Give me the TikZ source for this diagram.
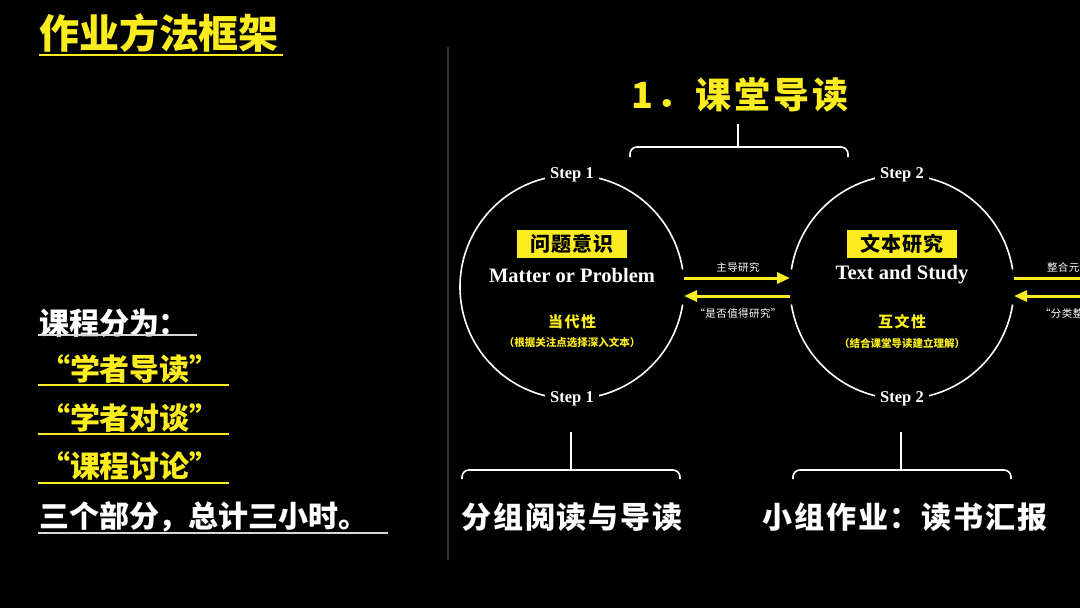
\documentclass[tikz,border=0pt]{standalone}
\usepackage{fontspec}
\usetikzlibrary{arrows.meta}
\setmainfont{Liberation Serif}
\newfontfamily\cjk{Noto Sans CJK SC}
\definecolor{yel}{RGB}{250,236,30}
\definecolor{dgray}{RGB}{45,45,45}
\definecolor{ulw}{RGB}{215,215,215}
\begin{document}
\begin{tikzpicture}[x=1pt,y=-1pt,
  every node/.style={inner sep=0pt, outer sep=0pt},
  ttl/.style={text=yel, font={\cjk\bfseries\fontsize{40}{40}\selectfont}},
  lw/.style={text=white, font={\cjk\bfseries\fontsize{30}{30}\selectfont}},
  ly/.style={text=yel, font={\cjk\bfseries\fontsize{30}{30}\selectfont}},
  ulwhite/.style={draw=ulw, line width=1.2pt},
  ulyel/.style={draw=yel, line width=1.2pt},
  head/.style={text=yel, font={\cjk\bfseries\fontsize{36}{36}\selectfont\addfontfeature{LetterSpace=8}}},
  bottomtxt/.style={text=white, font={\cjk\bfseries\fontsize{30}{30}\selectfont\addfontfeature{LetterSpace=6}}},
  ring/.style={circle, minimum size=224pt},
  ringline/.style={draw=white, line width=1.6pt},
  steplbl/.style={fill=black, text=white, inner xsep=5pt, inner ysep=2pt, font={\bfseries\fontsize{16.5}{16.5}\selectfont}},
  tagbox/.style={fill=yel, text=black, minimum width=110pt, minimum height=28pt, font={\cjk\bfseries\fontsize{20}{20}\selectfont\addfontfeature{LetterSpace=6}}},
  engl/.style={text=white, font={\bfseries\fontsize{20.5}{20.5}\selectfont}},
  quality/.style={text=yel, font={\cjk\bfseries\fontsize{15}{15}\selectfont\addfontfeature{LetterSpace=10}}},
  note/.style={text=yel, font={\cjk\bfseries\fontsize{10.5}{10.5}\selectfont}},
  arrlbl/.style={text=white, font={\cjk\fontsize{10.5}{10.5}\selectfont\addfontfeature{LetterSpace=4}}},
  flow/.style={draw=yel, line width=3pt, -{Triangle[length=13pt,width=11pt]}},
  brace/.style={draw=white, line width=1.6pt, rounded corners=7pt},
  stem/.style={draw=white, line width=1.6pt}
]
\fill[black] (0,0) rectangle (1080,608);
\useasboundingbox (0,0) rectangle (1080,608);
\clip (0,0) rectangle (1080,608);

% ---------- left column ----------
\node[ttl, anchor=west] (title) at (39,33) {作业方法框架};
\draw[draw=yel, line width=2.6pt] (39,55) -- (283,55);

\node[lw, anchor=west] (l1) at (39,323) {课程分为：};
\draw[ulwhite] (38,335) -- (197,335);
\node[ly, anchor=west] (l2) at (40,369) {“学者导读”};
\draw[ulyel] (38,385) -- (229,385);
\node[ly, anchor=west] (l3) at (40,418) {“学者对谈”};
\draw[ulyel] (38,434) -- (229,434);
\node[ly, anchor=west] (l4) at (40,466) {“课程讨论”};
\draw[ulyel] (38,483) -- (229,483);
\node[lw, anchor=west] (l5) at (39,517) {三个部分，总计三小时。};
\draw[ulwhite] (38,533) -- (388,533);

% divider
\draw[dgray, line width=1.6pt] (448,47) -- (448,560);

% ---------- heading and top bracket ----------
\node[head] (h1) at (740,95) {1．课堂导读};
\coordinate (hb) at (738,147);
\draw[stem] (738,124) -- (hb);
\draw[brace] (630,157) -- (630,147) -- (848,147) -- (848,157);

% ---------- circles ----------
\node[ring] (c1) at (572,287) {};
\node[ring] (c2) at (902,287) {};
\draw[ringline] (c1.9) arc[start angle=9, end angle=351, radius=112pt];
\draw[ringline] (c2.9) arc[start angle=9, end angle=171, radius=112pt];
\draw[ringline] (c2.189) arc[start angle=189, end angle=351, radius=112pt];

\node[steplbl] (s1t) at (c1.north) {Step 1};
\node[steplbl] (s1b) at (c1.south) {Step 1};
\node[steplbl] (s2t) at (c2.north) {Step 2};
\node[steplbl] (s2b) at (c2.south) {Step 2};

\node[tagbox] (k1) at (572,244) {问题意识};
\node[engl] (e1) at (572,275) {Matter or Problem};
\node[quality] (q1) at (572,322) {当代性};
\node[note] (n1) at (572,343) {（根据关注点选择深入文本）};

\node[tagbox] (k2) at (902,244) {文本研究};
\node[engl] (e2) at (902,275) {Text and Study};
\node[quality] (q2) at (902,322) {互文性};
\node[note] (n2) at (902,343) {（结合课堂导读建立理解）};

% ---------- arrows between circles ----------
\draw[flow] ([yshift=9pt]c1.east) -- ([yshift=9pt]c2.west);
\draw[flow] ([yshift=-9pt]c2.west) -- ([yshift=-9pt]c1.east);
\node[arrlbl] (a1) at (738,267) {主导研究};
\node[arrlbl] (a2) at (738,313) {“是否值得研究”};

% ---------- arrows leaving the right edge ----------
\coordinate (r1) at (1090,278);
\coordinate (r2) at (1090,296);
\draw[draw=yel, line width=3pt] ([yshift=9pt]c2.east) -- (r1);
\draw[flow] (r2) -- ([yshift=-9pt]c2.east);
\node[arrlbl, anchor=west] (a3) at (1047,267) {整合元素};
\node[arrlbl, anchor=west] (a4) at (1040,313) {“分类整理”};

% ---------- bottom brackets ----------
\coordinate (b1s) at (571,470);
\coordinate (b2s) at (901,470);
\draw[stem] (571,432) -- (b1s);
\draw[stem] (901,432) -- (b2s);
\draw[brace] (462,479) -- (462,470) -- (680,470) -- (680,479);
\draw[brace] (793,479) -- (793,470) -- (1011,470) -- (1011,479);
\node[bottomtxt] (t1) at (572,517) {分组阅读与导读};
\node[bottomtxt] (t2) at (905,517) {小组作业：读书汇报};
\end{tikzpicture}
\end{document}
